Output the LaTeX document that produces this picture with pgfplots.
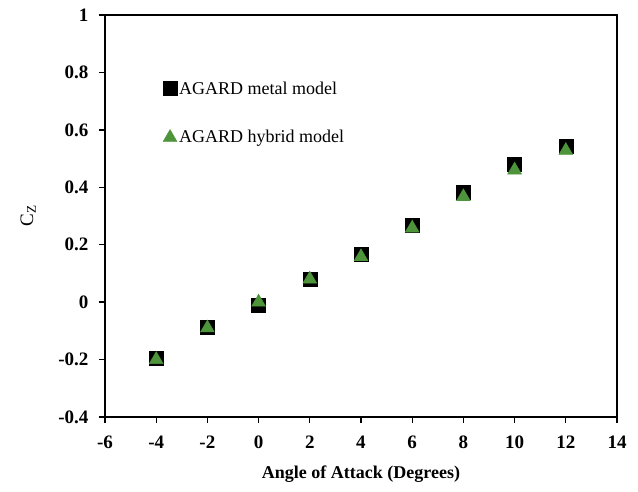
\documentclass[border=0pt]{standalone}
\usepackage{fontspec}
\setmainfont{Liberation Serif}
\usepackage{pgfplots}
\pgfplotsset{compat=1.18}
\definecolor{hybgreen}{RGB}{77,148,58}

\begin{document}
\begin{tikzpicture}
\begin{axis}[
  width=512pt, height=402pt, scale only axis,
  xmin=-6, xmax=14, ymin=-0.4, ymax=1,
  xtick={-6,-4,-2,0,2,4,6,8,10,12,14},
  ytick={-0.4,-0.2,0,0.2,0.4,0.6,0.8,1},
  xtick pos=bottom, ytick pos=left,
  tick align=outside, major tick length=6pt,
  axis line style={line width=1.6pt},
  tick style={line width=1.3pt, black},
  /pgf/number format/assume math mode=true,
  yticklabel style={/pgf/number format/fixed, xshift=-7pt},
  xticklabel style={yshift=-9pt},
  ticklabel style={font=\fontsize{19}{21}\selectfont\bfseries},
  xlabel={Angle of Attack (Degrees)},
  ylabel={C\textsubscript{Z}},
  xlabel style={font=\fontsize{18}{20}\selectfont\bfseries, at={(axis description cs:0.5,-0.142)}, anchor=center},
  ylabel style={font=\fontsize{19}{20}\selectfont, at={(axis description cs:-0.150,0.5)}, anchor=center},
  legend style={draw=none, fill=none, at={(axis description cs:0.113,0.840)}, anchor=north west,
    font=\fontsize{18}{20}\selectfont, row sep=31pt, inner sep=0pt,
    nodes={inner xsep=2pt}},
  legend cell align=left,
  legend image code/.code={\draw[#1] plot coordinates {(7pt,0pt)};},
  clip=false,
]
\coordinate (sw) at (rel axis cs:0,0);
\coordinate (ne) at (rel axis cs:1,1);
\addplot[only marks, mark=square*, mark size=7pt, black, mark options={fill=black}] coordinates {
  (-4,-0.194) (-2,-0.087) (0,-0.010) (2,0.081) (4,0.168)
  (6,0.268) (8,0.382) (10,0.480) (12,0.543)
};
\addlegendentry{AGARD metal model}
\addplot[only marks, mark=triangle*, mark size=8pt, hybgreen, mark options={fill=hybgreen}] coordinates {
  (-4,-0.200) (-2,-0.090) (0,0.000) (2,0.080) (4,0.158)
  (6,0.258) (8,0.367) (10,0.460) (12,0.528)
};
\addlegendentry{AGARD hybrid model}
\end{axis}
\pgfresetboundingbox
\path ([shift={(-105pt,-75pt)}]sw) rectangle ([shift={(21pt,15pt)}]ne);
\end{tikzpicture}
\end{document}
